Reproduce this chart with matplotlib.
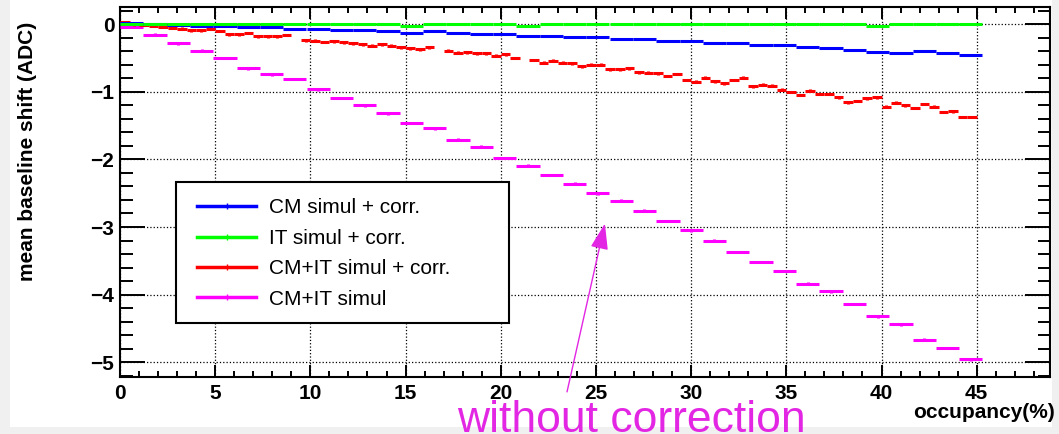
import numpy as np
import matplotlib.pyplot as plt
from matplotlib.lines import Line2D
from matplotlib.patches import Rectangle
from matplotlib.ticker import MultipleLocator

plt.rcParams['font.family'] = ['Liberation Sans', 'DejaVu Sans']

# occupancy bins (%) for the CM / IT / CM+IT simul series
occ = [0.61, 1.84, 3.06, 4.29, 5.51, 6.73, 7.96, 9.18, 10.41, 11.63, 12.86,
       14.08, 15.31, 16.53, 17.76, 18.98, 20.20, 21.43, 22.65, 23.88, 25.10,
       26.33, 27.55, 28.78, 30.00, 31.22, 32.45, 33.67, 34.90, 36.12, 37.35,
       38.57, 39.80, 41.02, 42.24, 43.47, 44.69]
occ_halfwidth = 0.61

cm_corr = [0.02, 0.0, -0.01, -0.03, -0.03, -0.04, -0.04, -0.065, -0.065, -0.08,
           -0.08, -0.095, -0.125, -0.105, -0.13, -0.15, -0.15, -0.17, -0.17,
           -0.19, -0.19, -0.22, -0.22, -0.25, -0.25, -0.275, -0.275, -0.30,
           -0.305, -0.335, -0.35, -0.385, -0.41, -0.425, -0.40, -0.43, -0.46]

it_corr = [0.0, 0.0, 0.0, 0.0, 0.0, 0.0, 0.0, 0.0, 0.0, 0.0, 0.0, 0.0, -0.02,
           0.0, 0.0, 0.0, 0.0, -0.02, 0.0, 0.0, 0.0, 0.0, 0.0, 0.0, 0.0, 0.0,
           0.0, 0.0, 0.0, 0.0, 0.0, 0.0, -0.02, 0.0, 0.0, 0.0, 0.0]

cmit_raw = [-0.04, -0.155, -0.28, -0.39, -0.50, -0.65, -0.74, -0.81, -0.96,
            -1.09, -1.20, -1.32, -1.46, -1.54, -1.71, -1.81, -1.98, -2.09,
            -2.23, -2.36, -2.50, -2.61, -2.76, -2.91, -3.05, -3.20, -3.37,
            -3.52, -3.65, -3.84, -3.95, -4.14, -4.32, -4.44, -4.67, -4.79,
            -4.96]

# CM+IT corrected series uses a finer 0.5% binning
red_halfwidth = 0.25
red_occ = np.arange(90) * 0.5 + 0.25
cmit_corr = [0.03, 0.0, -0.01, -0.02, -0.035, -0.05, -0.065, -0.09, -0.09, -0.065,
             -0.10, -0.15, -0.15, -0.13, -0.18, -0.18, -0.18, -0.16, np.nan, -0.235,
             -0.24, -0.26, -0.25, -0.267, -0.28, -0.296, -0.316, -0.296, -0.316, -0.34,
             -0.355, -0.37, -0.34, np.nan, -0.39, -0.42, -0.415, -0.43, -0.43, -0.465,
             -0.445, -0.50, np.nan, -0.53, -0.57, -0.54, -0.57, -0.58, -0.62, -0.60,
             -0.60, -0.665, -0.665, -0.65, -0.71, -0.715, -0.725, -0.765, -0.735, -0.825,
             -0.85, -0.79, -0.845, -0.875, -0.825, -0.79, -0.92, -0.895, -0.91, -0.97,
             -1.00, -1.045, -0.98, -1.03, -1.03, -1.08, -1.155, -1.135, -1.095, -1.08,
             -1.22, -1.16, -1.20, -1.24, -1.18, -1.22, -1.30, -1.29, -1.37, -1.37]

labels = ["CM simul + corr.", "IT simul + corr.", "CM+IT simul + corr.", "CM+IT simul"]
colors = ["#0000ff", "#00ff00", "#ff0000", "#ff00ff"]

W, H = 1059, 434
fx = lambda px: px / W
fy = lambda py: 1 - py / H

fig = plt.figure(figsize=(W / 100, H / 100), dpi=100, facecolor="#f0f0f0")
fig.add_artist(Rectangle((fx(10), fy(427)), fx(1052) - fx(10), fy(0) - fy(427),
                         transform=fig.transFigure, facecolor="white", edgecolor="none", zorder=-10))

ax = fig.add_axes([fx(120), fy(377), fx(1050) - fx(120), fy(7) - fy(377)])
ax.set_xlim(0, 48.85)
ax.set_ylim(-5.22, 0.256)

ekw = dict(fmt="none", elinewidth=2.2, capsize=0)
ax.errorbar(occ, cmit_raw, xerr=occ_halfwidth, yerr=0.02, ecolor=colors[3], zorder=3, **ekw)
ax.errorbar(red_occ, cmit_corr, xerr=red_halfwidth, yerr=0.02, ecolor=colors[2], zorder=3, **ekw)
ax.errorbar(occ, cm_corr, xerr=occ_halfwidth, yerr=0.015, ecolor=colors[0], zorder=3, **ekw)
ax.errorbar(occ, it_corr, xerr=occ_halfwidth, yerr=0.015, ecolor=colors[1], zorder=3, **ekw)

# ROOT-like axes
ax.xaxis.set_major_locator(MultipleLocator(5))
ax.xaxis.set_minor_locator(MultipleLocator(1))
ax.yaxis.set_major_locator(MultipleLocator(1))
ax.yaxis.set_minor_locator(MultipleLocator(0.2))
ax.tick_params(which="both", direction="in", top=True, right=True, width=1.4,
               labelsize=15)
ax.tick_params(axis="x", which="major", length=8.6, pad=5)
ax.tick_params(axis="x", which="minor", length=4.3)
ax.tick_params(axis="y", which="major", length=18, pad=4)
ax.tick_params(axis="y", which="minor", length=9)
for lab in ax.get_xticklabels() + ax.get_yticklabels():
    lab.set_fontweight("bold")
for sp in ax.spines.values():
    sp.set_linewidth(1.5)
ax.grid(True, which="major", ls=":", color="black", lw=0.9)
ax.set_axisbelow(True)

# legend box
ax.add_patch(Rectangle((fx(176), fy(323)), fx(509) - fx(176), fy(182) - fy(323),
                       transform=fig.transFigure, facecolor="white", edgecolor="black",
                       lw=1.5, zorder=5))
handles = [Line2D([0], [0], color=c, lw=2.5, marker="|", markersize=4) for c in colors]
leg = ax.legend(handles, labels, loc="upper left", bbox_to_anchor=(fx(187), fy(188)),
                bbox_transform=fig.transFigure, frameon=False, fontsize=15,
                handlelength=2.8, handletextpad=0.62, labelspacing=0.55, borderpad=0)
leg.set_zorder(6)

fig.text(fx(28), fy(22), "mean baseline shift (ADC)", rotation=90, ha="center", va="top",
         fontsize=15, fontweight="bold")
fig.text(fx(1055), fy(412), "occupancy(%)", ha="right", va="center", fontsize=15,
         fontweight="bold")

# annotation
mag = "#e326e3"
ax.annotate("", xy=(25.47, -2.95), xytext=(23.48, -5.44), annotation_clip=False,
            arrowprops=dict(arrowstyle="-|>,head_length=1.6,head_width=0.55",
                            color=mag, lw=1, shrinkA=0, shrinkB=0), zorder=4)
fig.text(fx(457), fy(432), "without correction", color=mag, fontsize=32, va="baseline")

fig.savefig("out.png", dpi=100, facecolor=fig.get_facecolor())
